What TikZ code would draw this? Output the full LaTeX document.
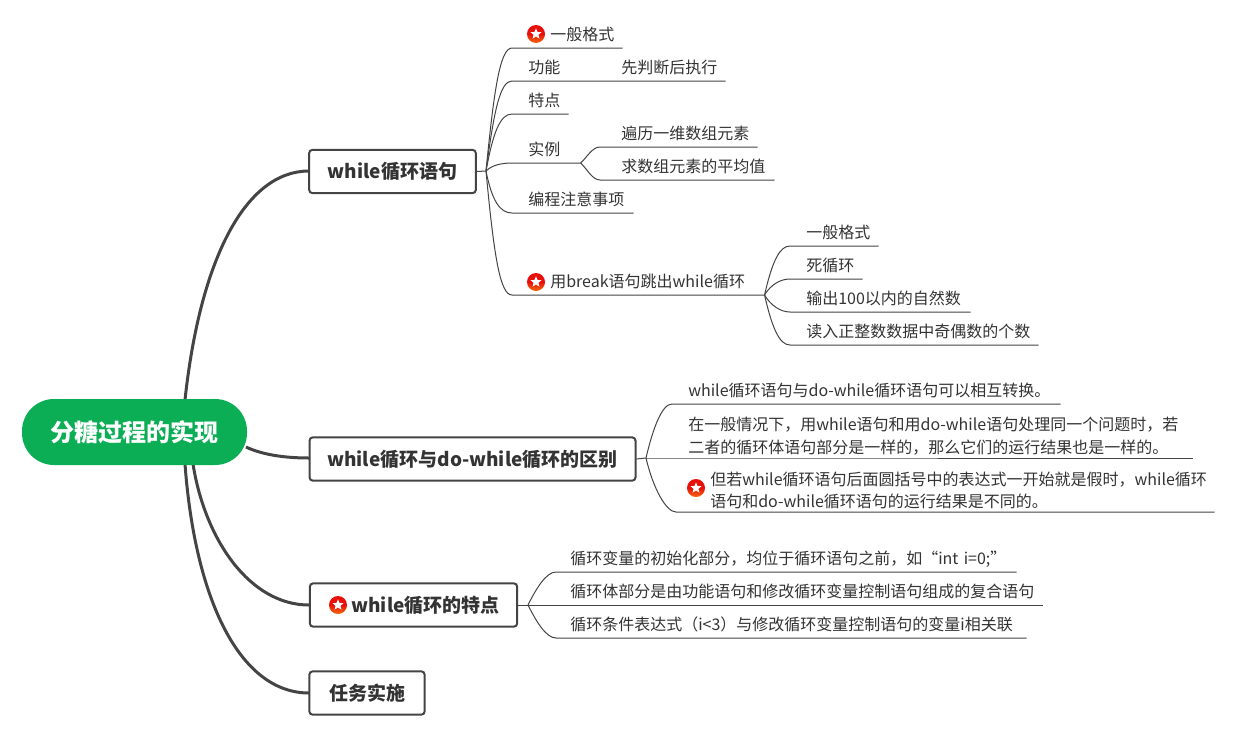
\documentclass[tikz,border=0pt]{standalone}
\usepackage{fontspec}
\setmainfont{Noto Sans CJK SC}
\usetikzlibrary{shapes.geometric}
\definecolor{rootgreen}{HTML}{0BAE55}
\definecolor{inkgray}{HTML}{444444}
\definecolor{textgray}{HTML}{333333}
\definecolor{badgered}{HTML}{E8100A}
\definecolor{badgeorange}{HTML}{F56A10}
\tikzset{
  trunk/.style={draw=inkgray,line width=2.25pt},
  twig/.style={draw=inkgray,line width=0.75pt},
  rootnode/.style={fill=rootgreen,text=white,rounded corners=24pt,minimum width=168.75pt,minimum height=49.5pt,inner sep=0pt,font=\fontsize{18pt}{20pt}\selectfont\bfseries},
  topic/.style={draw=inkgray,fill=white,line width=1.5pt,rounded corners=2.5pt,minimum height=32.5pt,inner sep=0pt,text=textgray,font=\fontsize{14.25pt}{16pt}\selectfont\bfseries},
  leaf/.style={anchor=south west,inner sep=0pt,text height=10pt,text depth=5.25pt,text width=#1*0.75pt,align=left,text=textgray,font=\fontsize{12pt}{17.25pt}\selectfont},
  longleaf/.style={anchor=south west,inner xsep=0pt,inner ysep=2.25pt,text width=#1*0.75pt,align=left,text=textgray,font=\fontsize{12pt}{16.75pt}\selectfont},
  badge/.style={circle,inner sep=0pt,minimum size=13.5pt,top color=badgered,bottom color=badgeorange,middle color=badgered},
  badgestar/.style={star,star points=5,star point ratio=2.2,fill=white,inner sep=0pt,minimum size=8.5pt},
}
\begin{document}
\begin{tikzpicture}[x=0.75pt,y=-0.75pt]
\useasboundingbox (0,0) rectangle (1235,736);
% hubs
\coordinate (rootup) at (185,400);
\coordinate (rootright) at (246,447);
\coordinate (rootdown) at (193,464);
\coordinate (rootlow) at (185,464);
\coordinate (hubA) at (486,171);
\coordinate (hubB) at (646,458);
\coordinate (hubC) at (528,605);
% main branches
\draw[trunk] (rootup) .. controls (200,260) and (245,171) .. (309,171);
\draw[trunk] (rootright) .. controls (265,456) and (290,458) .. (309,458);
\draw[trunk] (rootdown) .. controls (205,540) and (250,605) .. (309,605);
\draw[trunk] (rootlow) .. controls (195,600) and (240,693) .. (309,693);
\node[rootnode] (root) at (134.5,432) {\raisebox{-0.75pt}{分糖过程的实现}};
\node[topic,minimum width=125pt] (whileA) at (392.5,171.5) {while循环语句};
\node[topic,minimum width=244.5pt] (diffB) at (472.5,459) {while循环与do-while循环的区别};
\node[topic,minimum width=155.5pt] (featC) at (413.5,605) {\hspace*{18pt}while循环的特点};
\node[topic,minimum width=86.5pt] (taskD) at (367,693) {任务实施};
\node[badge] (badgeC) at (338,605) {};
\node[badgestar] (starC) at (badgeC) {};
\draw[twig] (whileA.east) -- (hubA);
\draw[twig] (diffB.east) -- (hubB);
\draw[twig] (featC.east) -- (hubC);
% while branch
\node[leaf=72] (format) at (550,48) {一般格式};
\node[leaf=84] (func) at (528,81) {功能};
\node[leaf=104] (first) at (621,81) {先判断后执行};
\node[leaf=40] (trait) at (528,114) {特点};
\node[leaf=52] (sample) at (528,163) {实例};
\node[leaf=136] (walk) at (621,147) {遍历一维数组元素};
\node[leaf=153] (mean) at (621,180) {求数组元素的平均值};
\node[leaf=105] (care) at (528,213) {编程注意事项};
\node[leaf=214] (brk) at (550,295) {用break语句跳出while循环};
\node[leaf=72] (brkform) at (806,246) {一般格式};
\node[leaf=56] (dead) at (806,279) {死循环};
\node[leaf=164] (count) at (806,312) {输出100以内的自然数};
\node[leaf=232] (odd) at (806,345) {读入正整数数据中奇偶数的个数};
\node[badge] (badgeF) at (536,34) {};
\node[badgestar] (starF) at (badgeF) {};
\node[badge] (badgeK) at (536,282) {};
\node[badgestar] (starK) at (badgeK) {};
\draw[twig] (hubA) .. controls +(8,-81) and +(-12,0) .. ([xshift=-28.5pt]format.south west) -- (format.south east);
\draw[twig] (hubA) .. controls +(8,-60) and +(-12,0) .. ([xshift=-12pt]func.south west) -- (func.south east) -- (first.south west) -- (first.south east);
\draw[twig] (hubA) .. controls +(7,-38) and +(-12,0) .. ([xshift=-12pt]trait.south west) -- (trait.south east);
\draw[twig] (hubA) .. controls +(6,-6) and +(-10,0) .. ([xshift=-12pt]sample.south west) -- (sample.south east);
\draw[twig] (sample.south east) .. controls +(6,-5) and +(-8,0) .. ([xshift=-15.75pt]walk.south west) -- (walk.south east);
\draw[twig] (sample.south east) .. controls +(6,5) and +(-8,0) .. ([xshift=-15.75pt]mean.south west) -- (mean.south east);
\draw[twig] (hubA) .. controls +(6,30) and +(-12,0) .. ([xshift=-12pt]care.south west) -- (care.south east);
\draw[twig] (hubA) .. controls +(8,85) and +(-12,0) .. ([xshift=-28.5pt]brk.south west) -- (brk.south east);
\draw[twig] (brk.south east) .. controls +(8,-35) and +(-10,0) .. ([xshift=-12pt]brkform.south west) -- (brkform.south east);
\draw[twig] (brk.south east) .. controls +(6,-10) and +(-10,0) .. ([xshift=-12pt]dead.south west) -- (dead.south east);
\draw[twig] (brk.south east) .. controls +(6,10) and +(-10,0) .. ([xshift=-12pt]count.south west) -- (count.south east);
\draw[twig] (brk.south east) .. controls +(8,35) and +(-10,0) .. ([xshift=-12pt]odd.south west) -- (odd.south east);
% difference branch
\node[leaf=372] (convert) at (688,404) {while循环语句与do-while循环语句可以相互转换。};
\node[longleaf=504] (same) at (688,458) {在一般情况下，用while语句和用do-while语句处理同一个问题时，若\\二者的循环体语句部分是一样的，那么它们的运行结果也是一样的。};
\node[longleaf=504] (differ) at (710,512) {但若while循环语句后面圆括号中的表达式一开始就是假时，while循环\\语句和do-while循环语句的运行结果是不同的。};
\node[badge] (badgeD) at (696,488) {};
\node[badgestar] (starD) at (badgeD) {};
\draw[twig] (hubB) .. controls +(7,-30) and +(-10,0) .. ([xshift=-12pt]convert.south west) -- (convert.south east);
\draw[twig] (hubB) -- (same.south west) -- (same.south east);
\draw[twig] (hubB) .. controls +(7,30) and +(-10,0) .. ([xshift=-25.5pt]differ.south west) -- (differ.south east);
% feature branch
\node[leaf=446] (init) at (570,572) {循环变量的初始化部分，均位于循环语句之前，如“int i=0;”};
\node[leaf=472] (body) at (570,605) {循环体部分是由功能语句和修改循环变量控制语句组成的复合语句};
\node[leaf=456] (cond) at (570,638) {循环条件表达式（i<3）与修改循环变量控制语句的变量i相关联};
\draw[twig] (hubC) .. controls +(8,-16) and +(-10,0) .. ([xshift=-10.5pt]init.south west) -- (init.south east);
\draw[twig] (hubC) -- (body.south west) -- (body.south east);
\draw[twig] (hubC) .. controls +(8,16) and +(-10,0) .. ([xshift=-10.5pt]cond.south west) -- (cond.south east);
\end{tikzpicture}
\end{document}
